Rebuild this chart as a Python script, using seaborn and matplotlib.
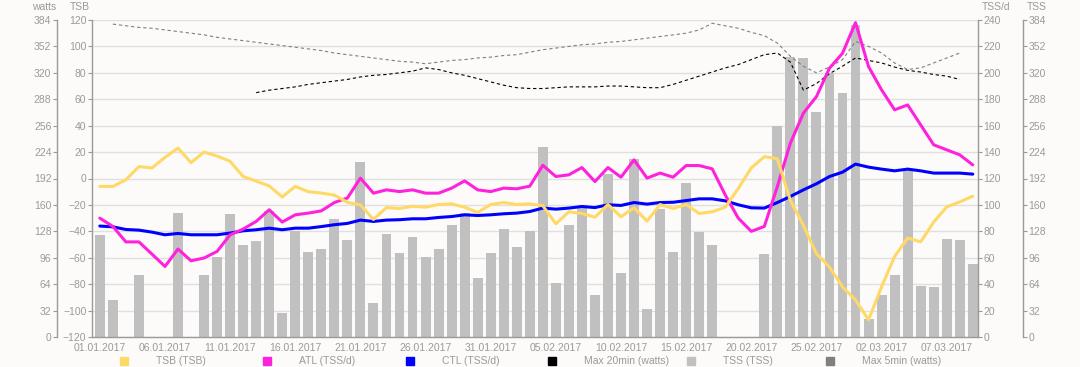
import numpy as np
import pandas as pd
import seaborn as sns
import matplotlib.pyplot as plt
from matplotlib.patches import Rectangle

# daily values, 01.01.2017 - 09.03.2017
start_date = '2017-01-01'

tss = [124, 45, 0, 75, 0, 0, 150, 0, 75, 97, 149, 112, 116, 153, 29, 129, 103, 107,
       143, 118, 212, 41, 125, 102, 121, 97, 107, 136, 150, 72, 102, 131, 109, 129,
       230, 66, 136, 156, 51, 198, 78, 216, 34, 155, 103, 187, 127, 112, 0, 0, 0,
       101, 256, 339, 338, 272, 320, 295, 378, 22, 51, 75, 203, 62, 61, 119, 117, 89]

tsb = [-6, -6, -1, 9, 8, 16, 23, 12, 20, 17, 13, 1.5, -2, -5.6, -14, -6, -10, -11,
       -12.6, -18, -20, -31, -22, -22.7, -21, -21.7, -19.7, -19.2, -21.7, -25.7, -19.7,
       -18.2, -19.7, -19.2, -20.6, -34.3, -25.2, -26.5, -29.3, -19.7, -29, -22.2, -32.3,
       -19.7, -22.7, -19.7, -26.5, -25.2, -21.7, -7.6, 8, 16.5, 15, -16.6, -35.5, -57,
       -67, -82, -92, -107, -82, -59, -45, -48, -33, -21.5, -17.7, -13.4]

atl = [90, 83.7, 72, 72, 62.8, 53.4, 66.6, 57.7, 59.8, 64.8, 77.4, 81.7, 87.5, 96.3,
       87, 92.5, 93.8, 95.5, 101.8, 105.2, 120.3, 108.9, 111.4, 110.1, 111.4, 108.9,
       108.9, 112.7, 118.2, 111.4, 110.1, 112.7, 112.2, 114.2, 130, 121.5, 122.8, 128.3,
       117.7, 128.3, 121, 134.1, 120.3, 124.1, 121, 129.8, 129.8, 127.3, 107.6, 90, 80,
       83.7, 113.9, 146.8, 169.5, 182, 203.5, 214.8, 238, 204.7, 187.1, 172, 175.7,
       160.6, 145.5, 141.7, 137.9, 130.3]

ctl = [84, 83.4, 81.4, 80.9, 79.4, 77.4, 78.4, 77.4, 77.4, 77.4, 78.7, 80.4, 81.2,
       82.4, 81.2, 82.4, 82.4, 83.6, 85, 86, 88.5, 87.5, 88.5, 88.8, 89.5, 89.5, 90.5,
       91.2, 92.5, 92, 92.5, 93.3, 93.8, 95, 97.6, 96.8, 97.6, 98.8, 98, 100.1, 99.6,
       101.8, 100.6, 101.8, 102, 103.3, 104.6, 104.6, 103.1, 100.1, 97.8, 97.6, 101.8,
       106.4, 111.4, 116, 121.5, 124.8, 130.9, 128.6, 127.1, 125.8, 127.1, 125.8, 124.1,
       124.1, 124.1, 123.3]

max20 = [None] * 12 + [
    296, 299, 301, 303, 306, 308, 310, 312, 315, 317, 318, 320, 322, 326, 324, 320,
    317, 313, 309, 305, 302, 301, 301, 302, 303, 303, 303, 304, 304, 303, 302, 302,
    306, 311, 316, 321, 326, 330, 336, 342, 344, 333, 299, 307, 319, 328, 338, 335,
    332, 327, 323, 321, 318, 316, 312] + [None]

max5 = [None] + [
    379, 377, 375, 374, 372, 370, 368, 366, 363, 361, 359, 357, 355, 353, 351, 349,
    347, 344, 342, 340, 338, 336, 334, 333, 331, 333, 335, 336, 338, 339, 341, 342,
    345, 348, 350, 352, 354, 355, 357, 358, 360, 362, 364, 366, 368, 372, 380, 377,
    374, 369, 365, 356, 340, 328, 320, 327, 336, 358, 352, 344, 332, 324, 326, 332,
    338, 344] + [None]

df = pd.DataFrame({'day': np.arange(len(tss)), 'tss': tss, 'tsb': tsb, 'atl': atl,
                   'ctl': ctl,
                   'max20': pd.to_numeric(pd.Series(max20), errors='coerce'),
                   'max5': pd.to_numeric(pd.Series(max5), errors='coerce')})
dates = pd.date_range(start_date, periods=len(df))

bg = '#fcfbfa'
grey = '#9a9a9a'
fs = 7.5
c_tsb, c_atl, c_ctl = '#ffd966', '#ff22dd', '#0000ff'
c_max20, c_tss, c_max5 = '#000000', '#c0c0c0', '#808080'

sns.set_theme(style='white')
plt.rcParams['font.family'] = ['Liberation Sans', 'DejaVu Sans']

fig = plt.figure(figsize=(10.8, 3.67), dpi=100, facecolor=bg)
ax = fig.add_axes([92 / 1080, 30 / 367, 886 / 1080, 317 / 367], facecolor=bg)
ax_w = ax.twinx()
ax_d = ax.twinx()
ax_b = ax.twinx()

# --- bars: TSS ---
sns.barplot(data=df, x='day', y='tss', ax=ax, color=c_tss, saturation=1,
            width=0.76, linewidth=0, zorder=2)
ax.set_ylim(0, 384)
ax.set_yticks(np.arange(0, 385, 32))
ax.grid(axis='y', color='#e0e0e0', lw=1, zorder=0)
ax.set_axisbelow(True)

# --- dashed power lines (watts) ---
sns.lineplot(data=df, x='day', y='max5', ax=ax_w, color=c_max5, lw=0.8,
             linestyle=(0, (3, 2.5)), estimator=None)
sns.lineplot(data=df, x='day', y='max20', ax=ax_w, color=c_max20, lw=0.8,
             linestyle=(0, (3, 2.5)), estimator=None)
ax_w.set_ylim(0, 384)
ax_w.set_yticks(np.arange(0, 385, 32))

# --- ATL / CTL ---
sns.lineplot(data=df, x='day', y='ctl', ax=ax_d, color=c_ctl, lw=2.2, estimator=None)
sns.lineplot(data=df, x='day', y='atl', ax=ax_d, color=c_atl, lw=2.2, estimator=None)
ax_d.set_ylim(0, 240)
ax_d.set_yticks(np.arange(0, 241, 20))

# --- TSB ---
sns.lineplot(data=df, x='day', y='tsb', ax=ax_b, color=c_tsb, lw=2.2, estimator=None)
ax_b.set_ylim(-120, 120)
ax_b.set_yticks(np.arange(-120, 121, 20))

# axis placement
for a in (ax, ax_w, ax_d, ax_b):
    for s in a.spines.values():
        s.set_visible(False)
        s.set_color(grey)
        s.set_linewidth(1)
    a.set_xlabel('')
    a.set_ylabel('')
    a.tick_params(axis='both', colors=grey, labelcolor=grey, labelsize=fs,
                  length=3, width=0.8, pad=1)

ax.spines['bottom'].set_visible(True)
ax.spines['right'].set_visible(True)
ax.spines['right'].set_position(('outward', 32.4))
ax.yaxis.tick_right()

ax_w.spines['left'].set_visible(True)
ax_w.spines['left'].set_position(('outward', 25.2))
ax_w.yaxis.tick_left()

ax_d.spines['right'].set_visible(True)
ax_d.yaxis.tick_right()

ax_b.spines['left'].set_visible(True)
ax_b.yaxis.tick_left()

# dates
ticks = np.arange(0, len(df), 5)
ax.set_xticks(ticks)
ax.set_xticklabels([dates[i].strftime('%d.%m.%Y') for i in ticks])
ax.set_xlim(-0.6, len(df) - 0.6)

# axis titles
fig.text(56 / 1080, 1 - 7 / 367, 'watts', ha='right', va='center', fontsize=fs, color=grey)
fig.text(90 / 1080, 1 - 7 / 367, 'TSB', ha='right', va='center', fontsize=fs, color=grey)
fig.text(982 / 1080, 1 - 7 / 367, 'TSS/d', ha='left', va='center', fontsize=fs, color=grey)
fig.text(1027 / 1080, 1 - 7 / 367, 'TSS', ha='left', va='center', fontsize=fs, color=grey)

# legend along the bottom
legend_items = [('TSB (TSB)', c_tsb, 120), ('ATL (TSS/d)', c_atl, 263),
                ('CTL (TSS/d)', c_ctl, 406), ('Max 20min (watts)', c_max20, 548),
                ('TSS (TSS)', c_tss, 687), ('Max 5min (watts)', c_max5, 826)]
for label, col, x0 in legend_items:
    fig.patches.append(Rectangle((x0 / 1080, 2 / 367), 8 / 1080, 8 / 367,
                                 transform=fig.transFigure, color=col, figure=fig))
    fig.text((x0 + 36) / 1080, 6 / 367, label, ha='left', va='center',
             fontsize=fs, color=grey)

fig.savefig('out.png', dpi=100, facecolor=bg)
